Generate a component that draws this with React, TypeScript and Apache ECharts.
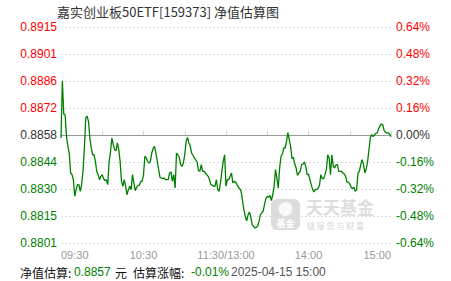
import React, { useEffect, useRef } from "react";
import * as echarts from "echarts";

// Previous NAV (base for the percentage axis)
const BASE_NAV = 0.8858;

// Estimated change (%) per minute: 09:30-11:30 (0..120) and 13:00-15:00 (120..240)
const pctChange: number[] = [
  -0.018, 0.322, 0.124, 0.12, -0.008, -0.067, -0.107, -0.225, -0.235, -0.265,
  -0.363, -0.324, -0.294, -0.294, -0.334, -0.294, -0.215, -0.077, 0.101, 0.111,
  0.081, -0.018, -0.077, -0.117, -0.117, -0.156, -0.215, -0.235, -0.265, -0.245,
  -0.235, -0.259, -0.271, -0.265, -0.294, -0.156, -0.101, -0.018, -0.057, -0.087,
  -0.093, -0.047, -0.087, -0.156, -0.275, -0.304, -0.265, -0.304, -0.354, -0.324,
  -0.304, -0.324, -0.235, -0.284, -0.33, -0.31, -0.298, -0.298, -0.275, -0.275,
  -0.235, -0.126, -0.136, -0.156, -0.166, -0.156, -0.107, -0.081, -0.067, -0.107,
  -0.156, -0.205, -0.251, -0.255, -0.259, -0.255, -0.265, -0.265, -0.265, -0.225,
  -0.219, -0.275, -0.235, -0.314, -0.107, -0.117, -0.132, -0.176, -0.186, -0.166,
  -0.117, -0.038, -0.014, -0.047, -0.067, -0.107, -0.12, -0.136, -0.148, -0.16,
  -0.211, -0.215, -0.176, -0.215, -0.215, -0.225, -0.235, -0.245, -0.265, -0.294,
  -0.298, -0.304, -0.304, -0.265, -0.324, -0.334, -0.284, -0.215, -0.156, -0.117,
  -0.304, -0.265, -0.265, -0.245, -0.225, -0.284, -0.275, -0.279, -0.294, -0.31,
  -0.318, -0.334, -0.389, -0.442, -0.482, -0.508, -0.476, -0.456, -0.482, -0.531,
  -0.541, -0.551, -0.547, -0.541, -0.512, -0.472, -0.462, -0.452, -0.413, -0.377,
  -0.363, -0.369, -0.358, -0.389, -0.354, -0.304, -0.205, -0.255, -0.314, -0.196,
  -0.126, -0.113, -0.077, -0.077, -0.038, 0.014, -0.028, -0.067, -0.14, -0.132,
  -0.172, -0.196, -0.239, -0.225, -0.215, -0.176, -0.172, -0.16, -0.186, -0.235,
  -0.231, -0.265, -0.294, -0.324, -0.338, -0.324, -0.324, -0.314, -0.298, -0.235,
  -0.259, -0.259, -0.235, -0.205, -0.117, -0.136, -0.235, -0.117, -0.186, -0.196,
  -0.176, -0.176, -0.215, -0.215, -0.215, -0.225, -0.231, -0.245, -0.279, -0.279,
  -0.29, -0.31, -0.318, -0.31, -0.334, -0.324, -0.225, -0.215, -0.176, -0.146,
  -0.176, -0.225, -0.2, -0.156, -0.087, -0.014, 0.002, -0.01, 0.0, 0.01,
  0.012, 0.038, 0.055, 0.065, 0.061, 0.026, 0.018, 0.012, 0.012, 0.006,
  -0.01,
];

// X tick labels keyed by minute index
const xTickMinutes = [0, 60, 120, 180, 240];
const xTickLabels = ["09:30", "10:30", "11:30/13:00", "14:00", "15:00"];

const titleText = "嘉实创业板50ETF[159373] 净值估算图";
const summaryNav = "0.8857";
const summaryPct = "-0.01%";
const summaryTime = "2025-04-15 15:00";

const RED = "#ff0000";
const GREEN = "#008000";
const DARK = "#333333";
const CJK = '"Noto Sans CJK SC", "Noto Sans", sans-serif';
const NUM = '"Liberation Sans", Arial, sans-serif';

const colorFor = (v: any) => {
  const n = Number(v);
  if (n > 1e-6) return RED;
  if (n < -1e-6) return GREEN;
  return DARK;
};

export default function App() {
  const ref = useRef<HTMLDivElement>(null);

  useEffect(() => {
    if (!ref.current) return;
    const chart = echarts.init(ref.current, undefined, { renderer: "svg" });
    const data = pctChange.map((v, i) => [i, v]);

    chart.setOption({
      animation: false,
      backgroundColor: "#ffffff",
      grid: { left: 61, right: 60, top: 27, bottom: 38, containLabel: false },
      xAxis: {
        type: "value",
        min: 0,
        max: 240,
        interval: 30,
        axisLine: { show: true, lineStyle: { color: "#c9d4df", width: 1 } },
        axisTick: { show: true, inside: true, length: 4, lineStyle: { color: "#c9d4df" } },
        splitLine: { show: false },
        axisLabel: {
          show: true,
          margin: 6,
          color: "#999999",
          fontSize: 11,
          fontFamily: NUM,
          alignMinLabel: "left",
          alignMaxLabel: "right",
          formatter: (v: number) => {
            const idx = xTickMinutes.indexOf(Math.round(v));
            return idx >= 0 ? xTickLabels[idx] : "";
          },
        },
      },
      yAxis: [
        {
          type: "value",
          min: -0.64,
          max: 0.64,
          interval: 0.16,
          position: "left",
          axisLine: { show: false },
          axisTick: { show: false },
          splitLine: {
            show: true,
            lineStyle: { color: "#dcdcdc", type: [2, 2], width: 1 },
          },
          axisLabel: {
            margin: 4,
            fontSize: 12,
            fontFamily: NUM,
            color: colorFor,
            formatter: (v: number) => (BASE_NAV * (1 + v / 100)).toFixed(4),
          },
        },
        {
          type: "value",
          min: -0.64,
          max: 0.64,
          interval: 0.16,
          position: "right",
          axisLine: { show: false },
          axisTick: { show: false },
          splitLine: { show: false },
          axisLabel: {
            margin: 5,
            fontSize: 12,
            fontFamily: NUM,
            color: colorFor,
            formatter: (v: number) => {
              const r = Math.abs(v) < 1e-9 ? 0 : v;
              return r.toFixed(2) + "%";
            },
          },
        },
      ],
      series: [
        {
          type: "line",
          yAxisIndex: 0,
          data,
          showSymbol: false,
          symbol: "none",
          z: 3,
          lineStyle: { color: GREEN, width: 1.3 },
          markLine: {
            silent: true,
            symbol: "none",
            label: { show: false },
            lineStyle: { color: "#999999", type: "solid", width: 1.2 },
            data: [{ yAxis: 0 }],
            z: 2,
          },
        },
      ],
      graphic: [
        {
          type: "text",
          x: 57,
          y: 11,
          style: {
            text: titleText,
            font: `13px ${CJK}`,
            fill: "#333333",
            verticalAlign: "middle",
          },
        },
        // watermark
        {
          type: "group",
          z: 1,
          children: [
            {
              type: "rect",
              shape: { x: 271, y: 199, width: 29, height: 31, r: 6 },
              style: { fill: "#d6d6d6", opacity: 0.85 },
            },
            {
              type: "circle",
              shape: { cx: 285.5, cy: 209, r: 7 },
              style: { fill: "#ffffff", opacity: 0.8 },
            },
            {
              type: "text",
              x: 285.5,
              y: 223,
              style: {
                text: "基金",
                font: `bold 9px ${CJK}`,
                fill: "#ffffff",
                align: "center",
                verticalAlign: "middle",
              },
            },
            {
              type: "text",
              x: 306,
              y: 206,
              style: {
                text: "天天基金",
                font: `bold 17px ${CJK}`,
                fill: "#dedede",
                verticalAlign: "middle",
              },
            },
            {
              type: "text",
              x: 307,
              y: 225,
              style: {
                text: "链 接 您 与 财 富",
                font: `8px ${CJK}`,
                fill: "#d6d6d6",
                verticalAlign: "middle",
              },
            },
          ],
        },
        // bottom summary
        {
          type: "text",
          x: 20,
          y: 272,
          style: { text: "净值估算:", font: `12px ${CJK}`, fill: "#111111", verticalAlign: "middle" },
        },
        {
          type: "text",
          x: 74,
          y: 272,
          style: { text: summaryNav, font: `12px ${NUM}`, fill: GREEN, verticalAlign: "middle" },
        },
        {
          type: "text",
          x: 115,
          y: 272,
          style: { text: "元", font: `12px ${CJK}`, fill: "#111111", verticalAlign: "middle" },
        },
        {
          type: "text",
          x: 133,
          y: 272,
          style: { text: "估算涨幅:", font: `12px ${CJK}`, fill: "#111111", verticalAlign: "middle" },
        },
        {
          type: "text",
          x: 191,
          y: 272,
          style: { text: summaryPct, font: `12px ${NUM}`, fill: GREEN, verticalAlign: "middle" },
        },
        {
          type: "text",
          x: 231,
          y: 272,
          style: { text: summaryTime, font: `12px ${NUM}`, fill: "#555555", verticalAlign: "middle" },
        },
      ],
    });

    return () => chart.dispose();
  }, []);

  return (
    <div
      ref={ref}
      style={{ position: "absolute", left: 0, top: 0, width: 451, height: 281, background: "#fff" }}
    />
  );
}
